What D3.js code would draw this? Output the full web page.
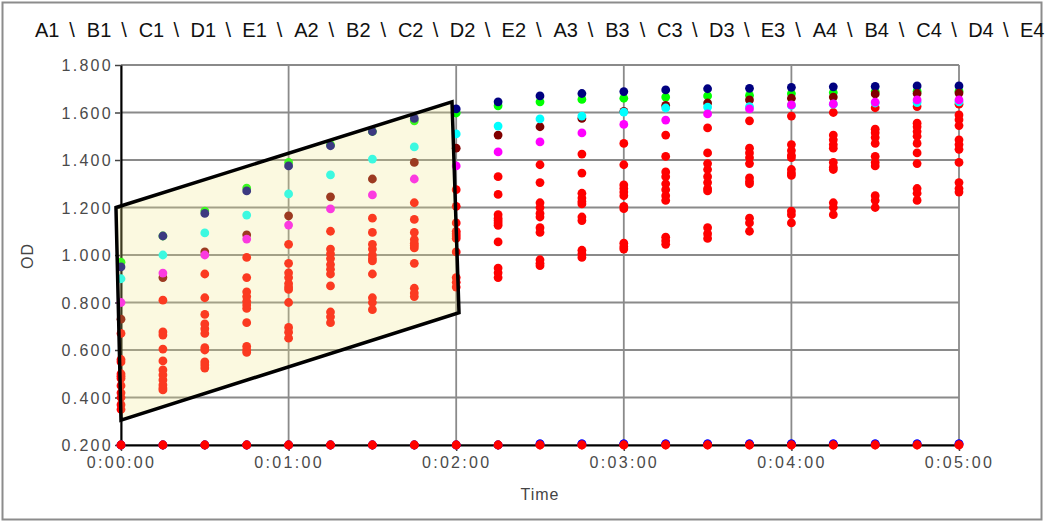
<!DOCTYPE html>
<html lang="en">
<head>
<title>OD vs Time</title>
<meta charset="utf-8">
<script src="https://cdnjs.cloudflare.com/ajax/libs/d3/7.8.5/d3.min.js"></script>
<style>
body {
    margin: 0;
    background: #fff;
}
svg text {
    font-family: "Liberation Sans", Arial, sans-serif;
}
.tick text {
    fill: #4a4a4a;
    font-size: 16px;
    letter-spacing: 2.3px;
}
</style>
</head>

<body>
<div id='chart'></div>
<script>

// time in seconds, one reading every 15 s
var times = [0, 15, 30, 45, 60, 75, 90, 105, 120, 135, 150, 165, 180, 195, 210, 225, 240, 255, 270, 285, 300]
var wells = ["A1","B1","C1","D1","E1","A2","B2","C2","D2","E2","A3","B3","C3","D3","E3","A4","B4","C4","D4","E4"]

var xTicks = [0, 60, 120, 180, 240, 300]
var xTickLabels = ["0:00:00", "0:01:00", "0:02:00", "0:03:00", "0:04:00", "0:05:00"]
var yTicks = [0.2, 0.4, 0.6, 0.8, 1.0, 1.2, 1.4, 1.6, 1.8]
var yTickLabels = ["0.200", "0.400", "0.600", "0.800", "1.000", "1.200", "1.400", "1.600", "1.800"]

// OD readings per well
var A1 = [0.950, 1.080, 1.175, 1.270, 1.375, 1.460, 1.520, 1.575, 1.615, 1.645, 1.670, 1.680, 1.688, 1.695, 1.700, 1.702, 1.706, 1.708, 1.710, 1.712, 1.712]
var B1 = [0.970, 1.080, 1.185, 1.282, 1.390, 1.465, 1.520, 1.565, 1.598, 1.628, 1.645, 1.655, 1.660, 1.665, 1.670, 1.672, 1.680, 1.684, 1.688, 1.690, 1.690]
var C1 = [0.730, 0.905, 1.013, 1.085, 1.165, 1.245, 1.320, 1.390, 1.450, 1.505, 1.540, 1.575, 1.605, 1.630, 1.640, 1.653, 1.660, 1.665, 1.678, 1.680, 1.682]
var D1 = [0.900, 1.000, 1.093, 1.168, 1.257, 1.337, 1.404, 1.455, 1.510, 1.543, 1.573, 1.585, 1.602, 1.619, 1.623, 1.625, 1.630, 1.635, 1.640, 1.642, 1.645]
var E1 = [0.800, 0.924, 1.000, 1.067, 1.126, 1.194, 1.253, 1.320, 1.375, 1.434, 1.476, 1.514, 1.550, 1.568, 1.594, 1.615, 1.632, 1.636, 1.644, 1.653, 1.653]
var A2 = [0.670, 0.810, 0.920, 0.990, 1.045, 1.100, 1.155, 1.220, 1.275, 1.330, 1.380, 1.425, 1.470, 1.505, 1.535, 1.565, 1.585, 1.600, 1.620, 1.625, 1.635]
var B2 = [0.560, 0.676, 0.820, 0.905, 0.965, 1.025, 1.095, 1.150, 1.205, 1.255, 1.305, 1.345, 1.380, 1.415, 1.430, 1.450, 1.465, 1.505, 1.530, 1.555, 1.590]
var C2 = [0.550, 0.663, 0.750, 0.845, 0.925, 1.005, 1.045, 1.095, 1.135, 1.170, 1.220, 1.260, 1.295, 1.350, 1.385, 1.430, 1.440, 1.485, 1.515, 1.540, 1.570]
var D2 = [0.500, 0.604, 0.710, 0.825, 0.905, 0.985, 1.025, 1.065, 1.100, 1.155, 1.200, 1.240, 1.280, 1.330, 1.360, 1.410, 1.420, 1.465, 1.495, 1.520, 1.545]
var E2 = [0.490, 0.554, 0.690, 0.805, 0.880, 0.960, 1.000, 1.050, 1.090, 1.145, 1.175, 1.225, 1.265, 1.300, 1.330, 1.385, 1.410, 1.450, 1.470, 1.500, 1.485]
var A3 = [0.480, 0.516, 0.670, 0.790, 0.865, 0.940, 0.985, 1.040, 1.080, 1.135, 1.160, 1.215, 1.250, 1.275, 1.305, 1.325, 1.360, 1.390, 1.415, 1.470, 1.465]
var B3 = [0.450, 0.495, 0.610, 0.775, 0.855, 0.920, 0.975, 1.030, 1.070, 1.125, 1.115, 1.160, 1.205, 1.250, 1.280, 1.310, 1.345, 1.370, 1.390, 1.430, 1.445]
var C3 = [0.420, 0.474, 0.600, 0.715, 0.800, 0.870, 0.920, 0.965, 1.013, 1.055, 1.095, 1.145, 1.195, 1.230, 1.270, 1.300, 1.335, 1.360, 1.375, 1.385, 1.390]
var D3 = [0.400, 0.453, 0.550, 0.615, 0.695, 0.760, 0.820, 0.860, 0.905, 0.945, 0.980, 1.020, 1.050, 1.075, 1.115, 1.155, 1.185, 1.220, 1.250, 1.280, 1.305]
var E3 = [0.370, 0.440, 0.537, 0.600, 0.675, 0.740, 0.800, 0.840, 0.885, 0.925, 0.965, 1.005, 1.035, 1.060, 1.090, 1.135, 1.170, 1.200, 1.230, 1.260, 1.280]
var A4 = [0.350, 0.432, 0.524, 0.590, 0.650, 0.715, 0.770, 0.825, 0.865, 0.905, 0.955, 0.990, 1.025, 1.045, 1.070, 1.100, 1.135, 1.170, 1.200, 1.230, 1.265]
var B4 = [0.200, 0.200, 0.200, 0.200, 0.200, 0.200, 0.200, 0.200, 0.200, 0.200, 0.205, 0.205, 0.205, 0.205, 0.205, 0.205, 0.205, 0.205, 0.205, 0.205, 0.205]
var C4 = [0.200, 0.200, 0.200, 0.200, 0.200, 0.200, 0.200, 0.200, 0.200, 0.200, 0.205, 0.205, 0.205, 0.205, 0.205, 0.205, 0.205, 0.205, 0.205, 0.205, 0.205]
var D4 = [0.200, 0.200, 0.200, 0.200, 0.200, 0.200, 0.200, 0.200, 0.200, 0.200, 0.200, 0.200, 0.200, 0.200, 0.200, 0.200, 0.200, 0.200, 0.200, 0.200, 0.200]
var E4 = [0.200, 0.200, 0.200, 0.200, 0.200, 0.200, 0.200, 0.200, 0.200, 0.200, 0.200, 0.200, 0.200, 0.200, 0.200, 0.200, 0.200, 0.200, 0.200, 0.200, 0.200]

// highlighted region (time s, OD) corners
var regionTimes = [-1.8, 118.5, 121, 0]
var regionOD = [1.2, 1.645, 0.757, 0.305]

var readings = {A1:A1, B1:B1, C1:C1, D1:D1, E1:E1, A2:A2, B2:B2, C2:C2, D2:D2, E2:E2,
                A3:A3, B3:B3, C3:C3, D3:D3, E3:E3, A4:A4, B4:B4, C4:C4, D4:D4, E4:E4}

var wellColor = {
    A1: '#000080', B1: '#00ff00', C1: '#800000', D1: '#00ffff', E1: '#ff00ff',
    B4: '#0000ff', C4: '#0000ff'
}
// red wells go underneath, blanks last
var drawOrder = ["A2","B2","C2","D2","E2","A3","B3","C3","D3","E3","A4",
                 "B1","A1","C1","D1","E1","B4","C4","D4","E4"]

var svgWidth = 1046, svgHeight = 523
var plot = { left: 121, right: 959, top: 65, bottom: 445 }

var svg = d3.select('#chart')
    .append('svg')
    .attr('width', svgWidth)
    .attr('height', svgHeight)

svg.append('rect')
    .attr('x', 2.5).attr('y', 2.5)
    .attr('width', 1039).attr('height', 517)
    .attr('fill', 'none')
    .attr('stroke', '#8c8c8c')
    .attr('stroke-width', 2)

var x = d3.scaleLinear().domain([0, 300]).range([plot.left, plot.right])
var y = d3.scaleLinear().domain([0.2, 1.8]).range([plot.bottom, plot.top])

// grid
var grid = svg.append('g')
grid.selectAll('.hgrid')
    .data(yTicks)
    .enter().append('line')
    .attr('x1', plot.left).attr('x2', plot.right)
    .attr('y1', function(d) { return y(d) }).attr('y2', function(d) { return y(d) })
    .attr('stroke', '#8a8a8a')
    .attr('stroke-width', 1.8)
grid.selectAll('.vgrid')
    .data(xTicks)
    .enter().append('line')
    .attr('x1', function(d) { return x(d) }).attr('x2', function(d) { return x(d) })
    .attr('y1', plot.top).attr('y2', plot.bottom)
    .attr('stroke', '#8a8a8a')
    .attr('stroke-width', 1.8)

// axes
var yAxis = svg.append('g')
    .attr('transform', 'translate(' + plot.left + ',0)')
    .call(d3.axisLeft(y).tickValues(yTicks)
        .tickFormat(function(d, i) { return yTickLabels[i] })
        .tickSize(6).tickSizeOuter(0).tickPadding(2))
yAxis.select('.domain').attr('stroke', '#000').attr('stroke-width', 2)
yAxis.selectAll('.tick line').attr('stroke', '#444').attr('stroke-width', 1.5)
yAxis.selectAll('.tick text').attr('dy', '0.36em')

var xAxis = svg.append('g')
    .attr('transform', 'translate(0,' + plot.bottom + ')')
    .call(d3.axisBottom(x).tickValues(xTicks)
        .tickFormat(function(d, i) { return xTickLabels[i] })
        .tickSize(6).tickSizeOuter(0).tickPadding(6))
xAxis.select('.domain').attr('stroke', '#000').attr('stroke-width', 2)
xAxis.selectAll('.tick line').attr('stroke', '#444').attr('stroke-width', 1.5)

// points
var points = []
drawOrder.forEach(function(w) {
    readings[w].forEach(function(v, i) {
        points.push({ well: w, t: times[i], od: v })
    })
})
svg.append('g').selectAll('circle')
    .data(points)
    .enter().append('circle')
    .attr('cx', function(d) { return x(d.t) })
    .attr('cy', function(d) { return y(d.od) })
    .attr('r', 4.4)
    .attr('fill', function(d) { return wellColor[d.well] || '#ff0000' })

// highlighted region on top
var region = regionTimes.map(function(t, i) { return [x(t), y(regionOD[i])] })
svg.append('path')
    .attr('d', d3.line()(region) + 'Z')
    .attr('fill', 'rgba(240,230,130,0.25)')
    .attr('stroke', '#000')
    .attr('stroke-width', 3.5)
    .attr('stroke-linejoin', 'miter')

// axis titles
svg.append('text')
    .attr('transform', 'translate(33,256) rotate(-90)')
    .attr('text-anchor', 'middle')
    .attr('font-size', 16)
    .attr('letter-spacing', 1)
    .attr('fill', '#444')
    .text('OD')

svg.append('text')
    .attr('x', 540).attr('y', 500)
    .attr('text-anchor', 'middle')
    .attr('font-size', 16)
    .attr('letter-spacing', 1)
    .attr('fill', '#444')
    .text('Time')

// well list across the top
var titleX = d3.scalePoint().domain(wells).range([35, 1020])
var title = svg.append('g')
var labels = title.selectAll('text')
    .data(wells)
    .enter().append('text')
    .attr('x', function(d) { return titleX(d) })
    .attr('y', 37)
    .attr('font-size', 20)
    .attr('fill', '#111')
    .text(function(d) { return d })
labels.each(function(d, i) {
    if (i == wells.length - 1) return
    var end = titleX(d) + this.getComputedTextLength()
    var next = titleX(wells[i + 1])
    title.append('text')
        .attr('x', (end + next) / 2 - 1)
        .attr('y', 37)
        .attr('text-anchor', 'middle')
        .attr('font-size', 20)
        .attr('fill', '#111')
        .text('\\')
})

</script>
</body>
</html>
